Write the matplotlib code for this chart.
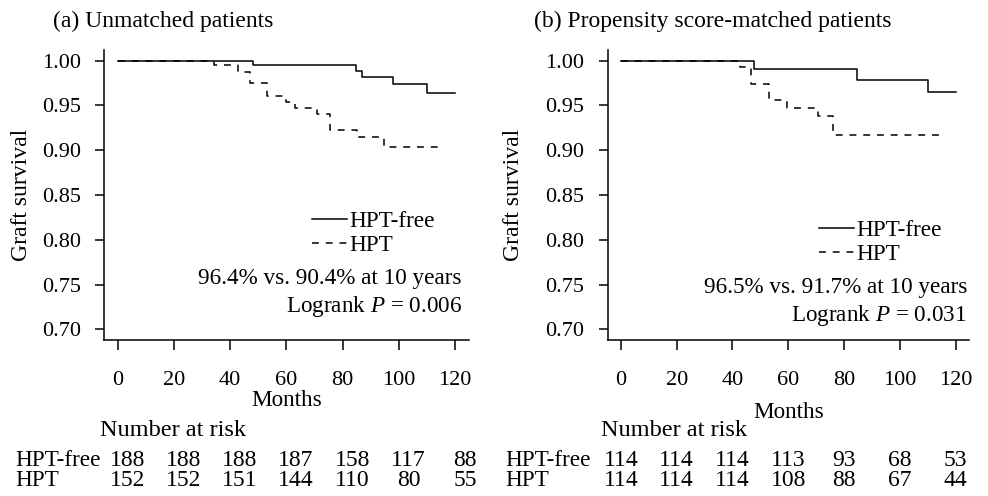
import matplotlib
matplotlib.use("Agg")
import matplotlib.pyplot as plt
from matplotlib.lines import Line2D
import matplotlib.transforms as mtransforms

plt.rcParams['font.family'] = ['Liberation Serif', 'DejaVu Serif']
plt.rcParams['font.size'] = 16
plt.rcParams['mathtext.fontset'] = 'custom'
plt.rcParams['mathtext.rm'] = 'Liberation Serif'
plt.rcParams['mathtext.it'] = 'Liberation Serif:italic'

# step curves (months, survival)
a_free_t = [0, 48.0, 84.9, 86.9, 97.9, 109.9]
a_free_s = [1.0, 0.995, 0.989, 0.982, 0.9735, 0.9645]
a_free_end = 120
a_hpt_t = [0, 34.2, 42.7, 47.2, 53.1, 60.0, 63.2, 70.9, 75.6, 85.1, 94.8]
a_hpt_s = [1.0, 0.995, 0.987, 0.975, 0.961, 0.954, 0.947, 0.941, 0.923, 0.915, 0.904]
a_hpt_end = 115.8

b_free_t = [0, 47.9, 84.8, 110.2]
b_free_s = [1.0, 0.991, 0.979, 0.965]
b_free_end = 120
b_hpt_t = [0, 42.7, 46.7, 53.1, 59.5, 70.8, 76.2]
b_hpt_s = [1.0, 0.993, 0.974, 0.956, 0.9475, 0.9385, 0.917]
b_hpt_end = 115.6

risk_times = [0, 20, 40, 60, 80, 100, 120]
a_risk_free = [188, 188, 188, 187, 158, 117, 88]
a_risk_hpt = [152, 152, 151, 144, 110, 80, 55]
b_risk_free = [114, 114, 114, 113, 93, 68, 53]
b_risk_hpt = [114, 114, 114, 108, 88, 67, 44]

y_ticks = [0.70, 0.75, 0.80, 0.85, 0.90, 0.95, 1.00]

titles = ["(a) Unmatched patients", "(b) Propensity score-matched patients"]
stats = ["96.4% vs. 90.4% at 10 years", "96.5% vs. 91.7% at 10 years"]
pvals = [r"Logrank $\it{P}$ = 0.006", r"Logrank $\it{P}$ = 0.031"]

W, H = 988, 496
fig = plt.figure(figsize=(W / 100, H / 100), dpi=100)

def px_ax(x0, x1, top, bottom):
    return fig.add_axes([x0 / W, 1 - bottom / H, (x1 - x0) / W, (bottom - top) / H])

ax_a = px_ax(104, 468.5, 50, 340)
ax_b = px_ax(607.5, 969, 50, 340)

dash = (0, (4.5, 4.5))
lw = 1.1
fs = 16.7

panels = [
    dict(ax=ax_a, ft=a_free_t, fs=a_free_s, fe=a_free_end,
         ht=a_hpt_t, hs=a_hpt_s, he=a_hpt_end,
         rf=a_risk_free, rh=a_risk_hpt, roff=3.5,
         ylab_x=-0.225, mon_y=-0.21, leg=(0.571, 0.445), st_x=0.982,
         st_y=(0.2107, 0.114), nar_x=100, lab_x=15, title_x=53),
    dict(ax=ax_b, ft=b_free_t, fs=b_free_s, fe=b_free_end,
         ht=b_hpt_t, hs=b_hpt_s, he=b_hpt_end,
         rf=b_risk_free, rh=b_risk_hpt, roff=0,
         ylab_x=-0.26, mon_y=-0.25, leg=(0.585, 0.413), st_x=0.9945,
         st_y=(0.18, 0.083), nar_x=600.7, lab_x=505.7, title_x=534),
]

for i, p in enumerate(panels):
    ax = p['ax']
    ax.step(p['ft'] + [p['fe']], p['fs'] + [p['fs'][-1]], where='post',
            color='black', lw=lw)
    ax.step(p['ht'] + [p['he']], p['hs'] + [p['hs'][-1]], where='post',
            color='black', lw=lw, linestyle=dash)

    ax.set_xlim(-4.8, 124.8)
    ax.set_ylim(0.688, 1.012)
    ax.set_xticks(risk_times)
    ax.set_yticks(y_ticks)
    ax.set_yticklabels([f"{v:.2f}" for v in y_ticks])
    for s in ['top', 'right']:
        ax.spines[s].set_visible(False)
    for s in ['left', 'bottom']:
        ax.spines[s].set_linewidth(lw)
    ax.tick_params(axis='x', length=7, width=lw, pad=15, labelsize=16)
    ax.tick_params(axis='y', length=6.5, width=lw, pad=10, labelsize=16)

    ax.text(p['ylab_x'], 0.5, "Graft survival", rotation=90, transform=ax.transAxes,
            ha='center', va='center', fontsize=17)
    ax.text(0.5, p['mon_y'], "Months", transform=ax.transAxes,
            ha='center', va='center', fontsize=fs)

    handles = [Line2D([], [], color='black', lw=lw),
               Line2D([], [], color='black', lw=lw, linestyle=dash)]
    ax.legend(handles, ["HPT-free", "HPT"], loc='upper left',
              bbox_to_anchor=p['leg'], frameon=False, borderpad=0,
              borderaxespad=0, handlelength=1.5, handletextpad=0.12,
              labelspacing=0.1, fontsize=fs)

    ax.text(p['st_x'], p['st_y'][0], stats[i], transform=ax.transAxes,
            ha='right', va='center', fontsize=fs)
    ax.text(p['st_x'], p['st_y'][1], pvals[i], transform=ax.transAxes,
            ha='right', va='center', fontsize=fs)

    # number at risk table
    trans = mtransforms.blended_transform_factory(ax.transData, fig.transFigure)
    for t, nf, nh in zip(risk_times, p['rf'], p['rh']):
        ax.text(t + p['roff'], 1 - 461 / H, str(nf), transform=trans,
                ha='center', va='center', fontsize=17, clip_on=False)
        ax.text(t + p['roff'], 1 - 481 / H, str(nh), transform=trans,
                ha='center', va='center', fontsize=17, clip_on=False)
    fig.text(p['nar_x'] / W, 1 - 431 / H, "Number at risk", ha='left', va='center',
             fontsize=17.5)
    fig.text(p['lab_x'] / W, 1 - 461 / H, "HPT-free", ha='left', va='center', fontsize=fs)
    fig.text(p['lab_x'] / W, 1 - 481 / H, "HPT", ha='left', va='center', fontsize=fs)

    fig.text(p['title_x'] / W, 1 - 21 / H, titles[i], ha='left', va='center', fontsize=17)

fig.savefig("out.png", dpi=100)
